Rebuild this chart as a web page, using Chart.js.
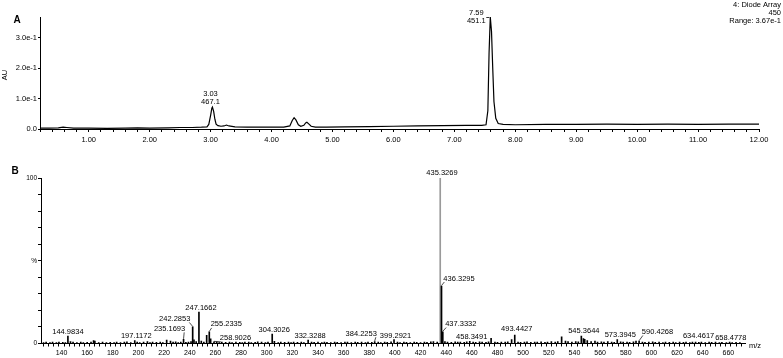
<!DOCTYPE html>
<html>
<head>
<meta charset="utf-8">
<script src="https://cdn.jsdelivr.net/npm/chart.js@4.4.0/dist/chart.umd.min.js"></script>
<style>
  html, body { margin: 0; padding: 0; background: #fff; }
  body { width: 783px; height: 358px; position: relative; overflow: hidden; }
  #chromChart { position: absolute; left: 0; top: 0; }
  #msChart { position: absolute; left: 0; top: 160px; }
</style>
</head>
<body>
<canvas id="chromChart" width="783" height="150"></canvas>
<canvas id="msChart" width="783" height="198"></canvas>
<script>
// Panel A - diode array chromatogram (time in min, absorbance in AU)
const chromTime = [0.20, 0.35, 0.50, 0.58, 0.64, 0.75, 1.00, 1.30, 1.60, 1.80, 2.00, 2.30, 2.50, 2.70, 2.85,
  2.94, 2.97, 3.00, 3.02, 3.03, 3.05, 3.07, 3.09, 3.12, 3.17, 3.22, 3.26, 3.30, 3.40, 3.60, 3.90,
  4.20, 4.30, 4.34, 4.37, 4.40, 4.44, 4.48, 4.53, 4.56, 4.58, 4.61, 4.65, 4.72, 4.90, 5.20, 5.60,
  6.00, 6.40, 6.80, 7.20, 7.45, 7.52, 7.55, 7.57, 7.59, 7.61, 7.63, 7.65, 7.68, 7.72, 7.80, 8.00,
  8.50, 9.00, 9.50, 10.00, 10.50, 11.00, 11.50, 12.00];
const chromAU = [0.003, 0.003, 0.004, 0.006, 0.005, 0.003, 0.003, 0.002, 0.003, 0.004, 0.003, 0.004, 0.005, 0.005, 0.006,
  0.007, 0.015, 0.045, 0.068, 0.072, 0.058, 0.032, 0.016, 0.011, 0.009, 0.010, 0.013, 0.010, 0.007, 0.006, 0.006,
  0.006, 0.010, 0.028, 0.037, 0.030, 0.014, 0.009, 0.012, 0.020, 0.022, 0.017, 0.009, 0.006, 0.006, 0.007, 0.008,
  0.009, 0.010, 0.011, 0.012, 0.012, 0.014, 0.060, 0.250, 0.3676, 0.320, 0.200, 0.090, 0.035, 0.018, 0.015, 0.014,
  0.015, 0.015, 0.016, 0.015, 0.016, 0.015, 0.016, 0.016];
const chromPeakTime = [3.03, 7.59];
const chromPeakMass = ['467.1', '451.1'];
const chromXLabels = [1, 2, 3, 4, 5, 6, 7, 8, 9, 10, 11, 12];
const chromYTicks = [0, 0.1, 0.2, 0.3];
const chromInfo = ['4: Diode Array', '450', 'Range: 3.67e-1'];

// Panel B - mass spectrum (m/z, relative intensity %)
const peakMz = [144.9834, 197.1172, 235.1693, 242.2853, 247.1662, 255.2335, 258.9026, 304.3026, 332.3288,
  384.2253, 399.2921, 435.3269, 436.3295, 437.3332, 458.3491, 493.4427, 545.3644, 573.3945, 590.4268,
  634.4617, 658.4778];
const peakPct = [4.5, 1.7, 2.5, 10, 19, 7, 1, 5.7, 2.1, 1.2, 2.4, 100, 34.7, 7.1, 1.3, 5.1, 4.5, 2.4, 1.4, 0.8, 0.6];
// small unlabelled peaks and noise [m/z, %]
const minorPeaks = [
  [126, 0.6], [128, 0.9], [131, 0.5], [133, 0.8], [136, 0.6], [138, 0.9], [141, 0.7], [143, 0.6], [147, 1.2],
  [149, 0.8], [152, 0.5], [155, 0.9], [157, 0.6], [160, 0.7], [163, 0.8], [165, 1.8], [166, 1.4], [169, 0.6],
  [172, 0.9], [175, 0.5], [178, 0.7], [181, 0.6], [183, 0.9], [186, 0.5], [189, 0.8], [191, 1.0], [194, 0.6],
  [199, 0.8], [201, 0.6], [204, 0.9], [207, 1.1], [209, 0.6], [211, 0.8], [214, 0.7], [217, 0.9], [219, 0.6],
  [222, 2.0], [225, 1.4], [227, 0.8], [229, 1.0], [231, 0.6], [233, 0.9], [237, 0.7], [239, 0.8], [241, 1.1],
  [243.3, 2.2], [245, 1.2], [249, 1.4], [251, 0.9], [253.2, 5.0], [256.3, 2.8], [261, 0.8], [263, 0.6],
  [265, 0.9], [268, 0.7], [271, 0.8], [273, 0.6], [276, 0.9], [279, 0.7], [281, 0.6], [283, 0.8], [286, 0.9],
  [288, 0.6], [291, 0.7], [293, 1.0], [296, 0.8], [299, 0.6], [301, 0.9], [306, 1.3], [309, 0.6], [311, 0.8],
  [314, 0.7], [317, 0.9], [319, 0.6], [321, 0.8], [324, 0.7], [327, 0.9], [329, 0.6], [335, 0.8], [337, 0.7],
  [340, 0.9], [343, 0.6], [345, 0.8], [347, 0.7], [350, 0.6], [353, 0.9], [355, 0.7], [358, 0.6], [361, 0.8],
  [363, 0.9], [366, 0.6], [369, 0.8], [371, 0.7], [374, 0.9], [377, 0.6], [379, 0.8], [382, 0.7], [387, 0.9],
  [389, 0.6], [392, 0.8], [394, 0.7], [397, 1.0], [402, 0.8], [404, 0.6], [407, 0.9], [409, 0.7], [412, 0.6],
  [415, 0.8], [417, 0.7], [420, 0.6], [423, 0.9], [425, 0.7], [428, 1.0], [430, 1.1], [433, 0.8], [439, 1.2],
  [441, 0.9], [444, 0.7], [447, 1.0], [449, 0.8], [451, 0.9], [454, 0.7], [456, 1.0], [461, 0.8], [463, 0.7],
  [466, 1.0], [468, 0.8], [471, 0.7], [473, 1.0], [475, 3.1], [478, 0.8], [480, 0.7], [483, 0.9], [486, 0.8],
  [488, 1.0], [491, 2.4], [496, 0.9], [498, 0.7], [501, 0.8], [503, 1.0], [506, 0.7], [509, 0.9], [511, 0.8],
  [514, 1.0], [517, 0.7], [519, 0.9], [522, 1.1], [525, 0.8], [527, 1.2], [530, 4.1], [533, 1.4], [535, 1.1],
  [538, 0.9], [541, 1.2], [543, 1.0], [547, 3.0], [548, 2.5], [550, 1.8], [553, 1.2], [556, 1.5], [558, 0.9],
  [561, 1.0], [563, 0.8], [566, 1.1], [569, 0.9], [571, 0.7], [576, 1.0], [578, 0.8], [581, 0.9], [583, 0.7],
  [586, 1.0], [588, 1.5], [593, 0.9], [595, 0.7], [598, 0.8], [601, 1.0], [603, 0.7], [606, 0.8], [609, 0.6],
  [611, 0.9], [614, 0.7], [617, 0.8], [619, 0.6], [622, 0.9], [625, 0.7], [627, 0.8], [630, 0.6], [632, 0.9],
  [637, 0.7], [639, 0.8], [642, 0.6], [645, 0.9], [647, 0.7], [650, 0.8], [653, 0.6], [655, 0.7], [661, 0.8],
  [663, 0.6], [666, 0.7], [669, 0.6]
];
const msXLabels = [140, 160, 180, 200, 220, 240, 260, 280, 300, 320, 340, 360, 380, 400, 420, 440, 460, 480,
  500, 520, 540, 560, 580, 600, 620, 640, 660];
const msYTicks = [0, 10, 20, 30, 40, 50, 60, 70, 80, 90, 100];
const basePeak = 435.3269;

// label placement: offset of label centre from the peak top (px), leader line flag
const labelOffsets = [[0, -4.5], [1.5, -4.7], [-14, -10.5, 1], [-18, -8, 1], [2, -4], [17, -7.5, 1], [21.5, -3.5, 1],
  [2, -4.6], [2, -4.5], [-13.5, -7.8, 1], [1.5, -4], [1.7, -5.5], [17.5, -7.6, 1], [18, -7.7, 1], [2, -4.6],
  [2, -6], [2.5, -5.6], [3, -5], [18.4, -9.2, 1], [3, -6], [4.4, -4.7]];

const FONT = '"Liberation Sans", Arial, sans-serif';
Chart.defaults.font.family = FONT;
Chart.defaults.color = '#000';

const chromLabels = {
  id: 'chromLabels',
  afterDatasetsDraw(chart) {
    const { ctx, scales: { x, y } } = chart;
    ctx.save();
    ctx.fillStyle = '#000';
    ctx.strokeStyle = '#000';
    ctx.font = '7.5px ' + FONT;
    ctx.textBaseline = 'middle';
    ctx.textAlign = 'center';

    chromPeakTime.forEach((t, i) => {
      const idx = chromTime.indexOf(t);
      const px = x.getPixelForValue(t);
      const top = y.getPixelForValue(chromAU[idx]);
      if (i === 0) {
        ctx.fillText(t.toFixed(2), px - 2, top - 13);
        ctx.fillText(chromPeakMass[i], px - 2, top - 5);
      } else {
        ctx.fillText(t.toFixed(2), px - 14, top - 4);
        ctx.fillText(chromPeakMass[i], px - 14, top + 4);
        ctx.lineWidth = 0.8;
        ctx.beginPath();
        ctx.moveTo(px - 4, top + 0.5);
        ctx.lineTo(px - 1, top + 0.5);
        ctx.stroke();
      }
    });

    // instrument info, top right
    ctx.textAlign = 'right';
    chromInfo.forEach((s, i) => ctx.fillText(s, 781, 5 + i * 8));

    // panel letter and axis title
    ctx.textAlign = 'center';
    ctx.font = 'bold 10px ' + FONT;
    ctx.fillText('A', 17, 20.5);
    ctx.font = '7.5px ' + FONT;
    ctx.translate(5, 75);
    ctx.rotate(-Math.PI / 2);
    ctx.fillText('AU', 0, 0);
    ctx.restore();
  }
};

const msLabels = {
  id: 'msLabels',
  afterDatasetsDraw(chart) {
    const { ctx, scales: { x, y } } = chart;
    ctx.save();
    ctx.fillStyle = '#000';
    ctx.strokeStyle = '#000';
    ctx.lineWidth = 0.7;
    ctx.font = '7.5px ' + FONT;
    ctx.textAlign = 'center';
    ctx.textBaseline = 'middle';

    peakMz.forEach((mz, i) => {
      const px = x.getPixelForValue(mz);
      const top = y.getPixelForValue(peakPct[i]);
      const [dx, dy, lead] = labelOffsets[i];
      const text = mz.toFixed(4);
      const cx = px + dx;
      const cy = top + dy;
      ctx.fillText(text, cx, cy);
      if (lead) {
        const w = ctx.measureText(text).width;
        const ex = dx > 0 ? cx - w / 2 + 1 : cx + w / 2 - 1;
        ctx.beginPath();
        ctx.moveTo(px, top - 0.5);
        ctx.lineTo(ex, cy + 3.5);
        ctx.stroke();
      }
    });

    ctx.textAlign = 'left';
    ctx.fillText('m/z', x.right + 4, y.bottom + 2.5);

    ctx.textAlign = 'center';
    ctx.font = 'bold 10px ' + FONT;
    ctx.fillText('B', 15, 11);
    ctx.restore();
  }
};

const chromPoints = chromTime.map((t, i) => ({ x: t, y: chromAU[i] }));

new Chart(document.getElementById('chromChart'), {
  type: 'line',
  data: {
    datasets: [{
      data: chromPoints,
      borderColor: '#000',
      borderWidth: 1.2,
      pointRadius: 0,
      tension: 0,
      fill: false,
      clip: 6
    }]
  },
  options: {
    responsive: false,
    animation: false,
    layout: { padding: { top: 17, right: 24, left: 0, bottom: 0 } },
    plugins: { legend: { display: false }, tooltip: { enabled: false } },
    scales: {
      x: {
        type: 'linear',
        min: 0.2,
        max: 12,
        afterBuildTicks: (s) => {
          const ticks = [];
          for (let k = 1; k <= 60; k++) ticks.push({ value: Math.round(k * 2) / 10 });
          s.ticks = ticks;
        },
        afterFit: (s) => { s.height = 21; },
        grid: { drawOnChartArea: false, tickLength: 3, color: '#000', tickWidth: 1 },
        border: { color: '#000', width: 1 },
        ticks: {
          autoSkip: false,
          maxRotation: 0,
          padding: 3,
          font: { size: 7.5 },
          callback: (v) => chromXLabels.includes(v) ? v.toFixed(2) : ''
        }
      },
      y: {
        min: 0,
        max: 0.3676,
        afterBuildTicks: (s) => { s.ticks = chromYTicks.map(v => ({ value: v })); },
        afterFit: (s) => { s.width = 40; },
        grid: { drawOnChartArea: false, tickLength: 2, color: '#000' },
        border: { color: '#000', width: 1 },
        ticks: {
          padding: 1,
          font: { size: 7.5 },
          callback: (v) => v === 0 ? '0.0' : (v * 10).toFixed(1) + 'e-1'
        }
      }
    }
  },
  plugins: [chromLabels]
});

const msPoints = peakMz.map((mz, i) => ({ x: mz, y: peakPct[i] }))
  .concat(minorPeaks.map(p => ({ x: p[0], y: p[1] })));

new Chart(document.getElementById('msChart'), {
  type: 'bar',
  data: {
    datasets: [{
      data: msPoints,
      backgroundColor: (c) => (c.raw && c.raw.x === basePeak) ? '#9a9a9a' : '#000',
      borderWidth: 0,
      barThickness: 1
    }]
  },
  options: {
    responsive: false,
    animation: false,
    layout: { padding: { top: 18, right: 38, left: 0, bottom: 0 } },
    plugins: { legend: { display: false }, tooltip: { enabled: false } },
    scales: {
      x: {
        type: 'linear',
        min: 124,
        max: 673,
        offset: false,
        afterBuildTicks: (s) => {
          const ticks = [];
          for (let v = 124; v <= 672; v += 4) ticks.push({ value: v });
          s.ticks = ticks;
        },
        afterFit: (s) => { s.height = 14.5; },
        grid: { drawOnChartArea: false, tickLength: 3, color: '#000' },
        border: { color: '#000', width: 1 },
        ticks: {
          autoSkip: false,
          maxRotation: 0,
          padding: 2,
          font: { size: 7 },
          callback: (v) => msXLabels.includes(v) ? String(v) : ''
        }
      },
      y: {
        min: 0,
        max: 100,
        afterBuildTicks: (s) => { s.ticks = msYTicks.map(v => ({ value: v })); },
        afterFit: (s) => { s.width = 41; },
        grid: { drawOnChartArea: false, tickLength: 3, color: '#000' },
        border: { color: '#000', width: 1 },
        ticks: {
          padding: 1,
          font: { size: 6.5 },
          callback: (v) => v === 0 ? '0' : v === 100 ? '100' : v === 50 ? '%' : ''
        }
      }
    }
  },
  plugins: [msLabels]
});
</script>
</body>
</html>
